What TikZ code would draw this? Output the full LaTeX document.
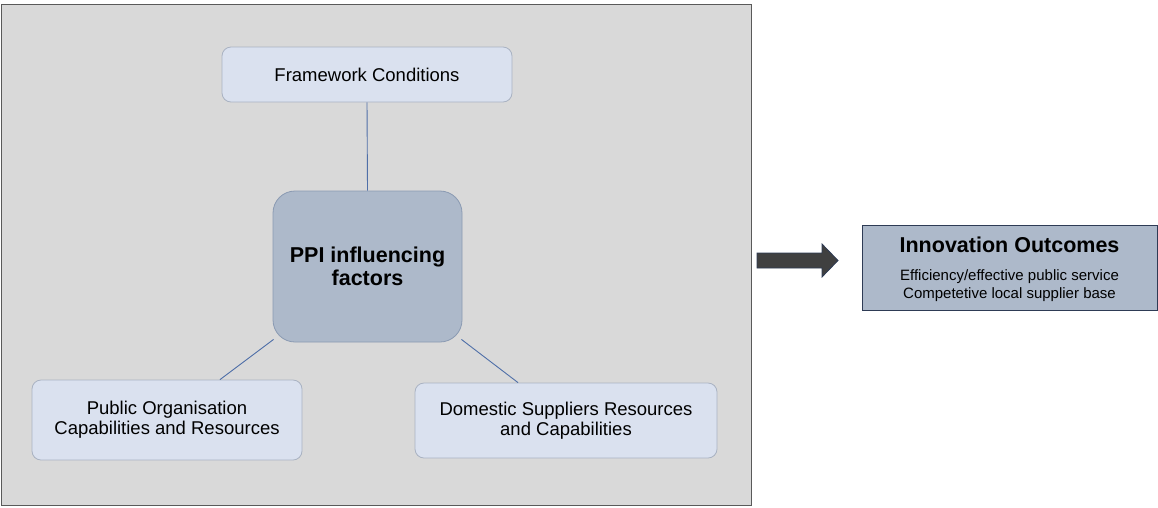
\documentclass[tikz,border=0pt]{standalone}
\usepackage{fontspec}
\setmainfont{Liberation Sans}
\usetikzlibrary{calc}
\definecolor{panelgray}{HTML}{D9D9D9}
\definecolor{panelline}{HTML}{5A5A5A}
\definecolor{lightfill}{HTML}{DAE1EF}
\definecolor{lightline}{HTML}{A9B2C2}
\definecolor{midfill}{HTML}{ADB9CA}
\definecolor{midline}{HTML}{8A9AB2}
\definecolor{linkblue}{HTML}{4F6FA8}
\definecolor{darkline}{HTML}{2E3B55}
\definecolor{arrowfill}{HTML}{404040}
\tikzset{
  x=1pt, y=1pt,
  factorbox/.style={draw=lightline, fill=lightfill, line width=0.8pt,
    rounded corners=9pt, align=center, inner sep=0pt,
    font=\fontsize{18.5}{20}\selectfont},
  corebox/.style={draw=midline, fill=midfill, line width=0.8pt,
    rounded corners=22pt, align=center, inner sep=0pt,
    font=\fontsize{21.5}{23}\selectfont\bfseries},
  outcomebox/.style={draw=darkline, fill=midfill, line width=0.9pt,
    align=center, inner sep=0pt},
  link/.style={draw=linkblue, line width=0.9pt},
}
\begin{document}
\begin{tikzpicture}
\useasboundingbox (0,0) rectangle (1158,-507);
% grey panel holding the influencing factors
\node[draw=panelline, fill=panelgray, line width=1pt, minimum width=750pt,
  minimum height=501pt, inner sep=0pt] (panel) at (376,-254.5) {};

\node[factorbox, minimum width=290pt, minimum height=55pt] (frame)
  at (367,-74.5) {Framework Conditions};
\node[corebox, minimum width=189pt, minimum height=151pt] (core)
  at (367.5,-266.5) {PPI influencing\\factors};
\node[factorbox, minimum width=270pt, minimum height=80pt] (pub)
  at (167,-420) {Public Organisation\\Capabilities and Resources};
\node[factorbox, minimum width=302pt, minimum height=75pt] (dom)
  at (566,-420.5) {Domestic Suppliers Resources\\and Capabilities};

\draw[link] (frame.south) -- (core.north);
\draw[link] ($(core.south west)+(1,3)$) -- ($(pub.north)+(53,0)$);
\draw[link] ($(core.south east)+(-1,3)$) -- ($(dom.north)+(-48,0)$);

% outcome box
\node[outcomebox, minimum width=295pt, minimum height=85pt] (out)
  at (1009.5,-267.5) {};
\node[font=\fontsize{21.5}{23}\selectfont\bfseries, inner sep=0pt]
  (outtitle) at ($(out.center)+(0,22.5)$) {Innovation Outcomes};
\node[font=\fontsize{15}{18}\selectfont, align=center, inner sep=0pt]
  (outtext) at ($(out.center)+(0,-18.5)$)
  {Efficiency/effective public service\\Competetive local supplier base};

% block arrow between panel and outcomes
\coordinate (atail) at (757,-260.5);
\coordinate (atip) at (838,-260.5);
\draw[draw=darkline, fill=arrowfill, line width=0.8pt, line join=miter]
  ($(atail)+(0,7.5)$) -- ($(atail)+(65,7.5)$) -- ($(atail)+(65,16.5)$)
  -- (atip) -- ($(atail)+(65,-16.5)$) -- ($(atail)+(65,-7.5)$)
  -- ($(atail)+(0,-7.5)$) -- cycle;
\end{tikzpicture}
\end{document}
